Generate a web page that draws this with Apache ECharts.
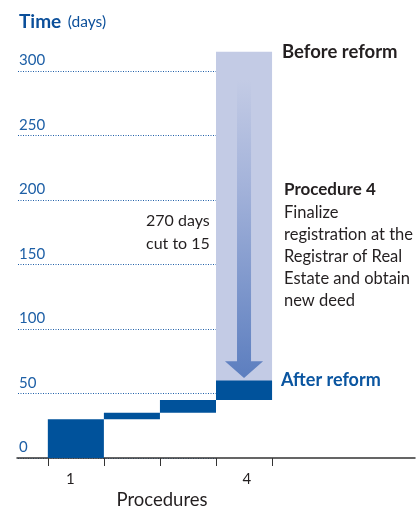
<!DOCTYPE html>
<html>
<head>
<meta charset="utf-8">
<script src="https://cdn.jsdelivr.net/npm/echarts@6/dist/echarts.min.js"></script>
<style>
  html, body { margin: 0; padding: 0; background: #ffffff; }
  #chart { width: 417px; height: 507px; }
</style>
</head>
<body>
<div id="chart"></div>
<script>
// Days per procedure after the reform, and procedure 4 before it
const procedures = ['1', '2', '3', '4'];
const daysAfter = [30, 5, 10, 15];
const daysBefore = [30, 5, 10, 270];
const yTicks = [0, 50, 100, 150, 200, 250, 300];
const xTickLabels = ['1', '4'];

// cumulative start of each procedure (waterfall)
const starts = [];
daysAfter.reduce((acc, d, i) => { starts[i] = acc; return acc + d; }, 0);

const afterData = daysAfter.map((d, i) => [i, starts[i], starts[i] + d]);
const last = procedures.length - 1;
const beforeData = [[last, starts[last], starts[last] + daysBefore[last]]];
const arrowData = [[last, starts[last] + daysBefore[last], starts[last] + daysAfter[last]]];

const FONT = 'Lato, "Noto Sans", sans-serif';
const DARK = '#231f20';
const BLUE = '#0b4f9a';

function rectItem(params, api) {
  const i = api.value(0), s = api.value(1), e = api.value(2);
  const p0 = api.coord([i, e]);
  const p1 = api.coord([i + 1, s]);
  return {
    type: 'rect',
    shape: { x: p0[0], y: p0[1], width: p1[0] - p0[0], height: p1[1] - p0[1] },
    style: { fill: api.visual('color') }
  };
}

function arrowItem(params, api) {
  const i = api.value(0), from = api.value(1), to = api.value(2);
  const unit = api.size([1, 0])[0];
  const cx = api.coord([i + 0.5, 0])[0];
  const yTop = api.coord([0, from - 22])[1];
  const yBase = api.coord([0, to + 15])[1];
  const yTip = api.coord([0, to + 2])[1];
  const sw = unit * 0.125, hw = unit * 0.34;
  return {
    type: 'polygon',
    shape: {
      points: [
        [cx - sw, yTop], [cx + sw, yTop], [cx + sw, yBase], [cx + hw, yBase],
        [cx, yTip], [cx - hw, yBase], [cx - sw, yBase]
      ]
    },
    style: {
      fill: new echarts.graphic.LinearGradient(0, 0, 0, 1, [
        { offset: 0, color: '#c3cbe5' },
        { offset: 0.35, color: '#a4b3da' },
        { offset: 1, color: '#5c7ebf' }
      ])
    }
  };
}

const chart = echarts.init(document.getElementById('chart'), null, { renderer: 'canvas' });

chart.setOption({
  animation: false,
  backgroundColor: '#ffffff',
  grid: [
    { left: 18, right: 200, top: 71, bottom: 49 },
    { left: 17, right: 2, top: 71, bottom: 49 }
  ],
  xAxis: [
    { gridIndex: 0, type: 'value', min: 0, max: 1, show: false },
    {
      gridIndex: 1, type: 'value', min: -0.55, max: 6.55,
      splitLine: { show: false },
      axisLine: { show: true, onZero: false, lineStyle: { color: '#333333', width: 1.5 } },
      axisTick: {
        show: true, length: 8, customValues: procedures.map((p, i) => i).concat([procedures.length]),
        lineStyle: { color: '#333333', width: 1 }
      },
      axisLabel: {
        customValues: [0.4, 3.55],
        formatter: v => (v < 2 ? xTickLabels[0] : xTickLabels[1]),
        color: DARK, fontFamily: FONT, fontSize: 15, margin: 14
      }
    }
  ],
  yAxis: [
    {
      gridIndex: 0, type: 'value', min: yTicks[0], max: yTicks[yTicks.length - 1], interval: 50,
      axisLine: { show: false }, axisTick: { show: false },
      splitLine: { show: true, lineStyle: { color: '#1f5fa8', width: 1, type: [1, 1.5] } },
      axisLabel: {
        inside: true, margin: 1, verticalAlign: 'bottom', padding: [0, 0, 3, 0],
        color: '#1d5fa6', fontFamily: FONT, fontSize: 15,
        formatter: v => (yTicks.includes(v) ? String(v) : '')
      }
    },
    { gridIndex: 1, type: 'value', min: 0, max: 300, show: false }
  ],
  series: [
    {
      name: 'Before reform', type: 'custom', xAxisIndex: 1, yAxisIndex: 1,
      renderItem: rectItem, data: beforeData, itemStyle: { color: '#c3cbe5' },
      encode: { x: 0, y: [1, 2] }, clip: false, z: 1
    },
    {
      name: 'Reduction', type: 'custom', xAxisIndex: 1, yAxisIndex: 1,
      renderItem: arrowItem, data: arrowData, encode: { x: 0, y: [1, 2] }, clip: false, z: 2
    },
    {
      name: 'After reform', type: 'custom', xAxisIndex: 1, yAxisIndex: 1,
      renderItem: rectItem, data: afterData, itemStyle: { color: '#00529b' },
      encode: { x: 0, y: [1, 2] }, clip: false, z: 3
    }
  ],
  graphic: [
    {
      type: 'text', x: 19, y: 22,
      style: {
        text: '{b|Time}  {n|(days)}', verticalAlign: 'middle',
        rich: {
          b: { fontFamily: FONT, fontWeight: 'bold', fontSize: 19, fill: BLUE },
          n: { fontFamily: FONT, fontSize: 15.5, fill: BLUE }
        }
      }
    },
    {
      type: 'text', x: 282, y: 52,
      style: { text: 'Before reform', font: 'bold 18.5px ' + FONT, fill: DARK, verticalAlign: 'middle' }
    },
    {
      type: 'text', x: 146, y: 221 - 11.5,
      style: { text: '270 days\ncut to 15', font: '16px ' + FONT, fill: DARK, verticalAlign: 'top', lineHeight: 23 }
    },
    {
      type: 'text', x: 284, y: 190,
      style: { text: 'Procedure 4', font: 'bold 17px ' + FONT, fill: DARK, verticalAlign: 'middle' }
    },
    {
      type: 'text', x: 284, y: 213 - 11,
      style: {
        text: 'Finalize\nregistration at the\nRegistrar of Real\nEstate and obtain\nnew deed',
        font: '16.5px ' + FONT, fill: DARK, verticalAlign: 'top', lineHeight: 22
      }
    },
    {
      type: 'text', x: 281, y: 380,
      style: { text: 'After reform', font: 'bold 18px ' + FONT, fill: '#0a55a0', verticalAlign: 'middle' }
    },
    {
      type: 'text', x: 162, y: 500,
      style: { text: 'Procedures', font: '18.5px ' + FONT, fill: DARK, align: 'center', verticalAlign: 'middle' }
    }
  ]
});
</script>
</body>
</html>
